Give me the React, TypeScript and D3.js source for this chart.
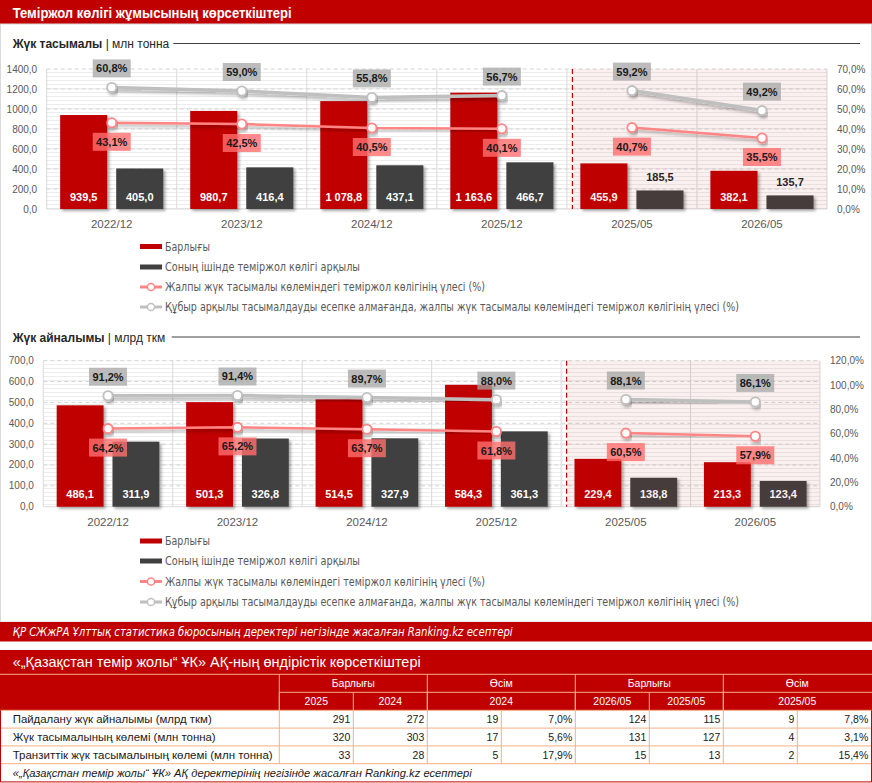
import React from "react";
import * as d3 from "d3";

// ---- data ----
const categories = ["2022/12", "2023/12", "2024/12", "2025/12", "2025/05", "2026/05"];
// annual figures vs January–May figures
const periodType = ["year", "year", "year", "year", "ytd", "ytd"];

const freightTotal = [939.5, 980.7, 1078.8, 1163.6, 455.9, 382.1];
const freightRail = [405.0, 416.4, 437.1, 466.7, 185.5, 135.7];
const freightShare = [43.1, 42.5, 40.5, 40.1, 40.7, 35.5];
const freightShareExPipe = [60.8, 59.0, 55.8, 56.7, 59.2, 49.2];

const turnoverTotal = [486.1, 501.3, 514.5, 584.3, 229.4, 213.3];
const turnoverRail = [311.9, 326.8, 327.9, 361.3, 138.8, 123.4];
const turnoverShare = [64.2, 65.2, 63.7, 61.8, 60.5, 57.9];
const turnoverShareExPipe = [91.2, 91.4, 89.7, 88.0, 88.1, 86.1];

const legendLabels = [
  "Барлығы",
  "Соның ішінде теміржол көлігі арқылы",
  "Жалпы жүк тасымалы көлеміндегі теміржол көлігінің үлесі (%)",
  "Құбыр арқылы тасымалдауды есепке алмағанда, жалпы жүк тасымалы көлеміндегі теміржол көлігінің үлесі (%)",
];
const legendWidths = [45, 195, 320, 574];

const tableRowLabels = [
  "Пайдалану жүк айналымы (млрд ткм)",
  "Жүк тасымалының көлемі (млн тонна)",
  "Транзиттік жүк тасымалының көлемі (млн тонна)",
];
const tableRowLabelWidths = [199, 203, 260];
const headerGroups = ["Барлығы", "Өсім", "Барлығы", "Өсім"];
const headerPeriods = ["2025", "2024", "2024", "2026/05", "2025/05", "2025/05"];
const year2025 = [291, 320, 33];
const year2024 = [272, 303, 28];
const growthAbsYear = [19, 17, 5];
const growthPctYear = [7.0, 5.6, 17.9];
const may2026 = [124, 131, 15];
const may2025 = [115, 127, 13];
const growthAbsMay = [9, 4, 2];
const growthPctMay = [7.8, 3.1, 15.4];

// ---- formatting ----
const locale = d3.formatLocale({ decimal: ",", thousands: "\u00a0", grouping: [3], currency: ["", ""] });
const fmtValue = locale.format(",.1f");
const fmtAxis = locale.format(".1f");
const fmtPct = (v: number) => locale.format(".1f")(v) + "%";

const RED = "#C00000";
const DARK = "#404040";
const PINK = "#FF8585";
const GRAY = "#BFBFBF";
const FONT = "'Liberation Sans', Arial, sans-serif";
const NARROW = "'Liberation Sans Narrow', 'Arial Narrow', 'DejaVu Sans Condensed', sans-serif";

type ChartProps = {
  id: string;
  titleBold: string;
  titleUnit: string;
  titleY: number;
  ruleX: number;
  x0: number;
  x1: number;
  yTop: number;
  yBottom: number;
  leftMax: number;
  leftStep: number;
  rightMax: number;
  rightStep: number;
  totals: number[];
  rail: number[];
  share: number[];
  shareEx: number[];
  xLabelY: number;
  legendY: number[];
};

function ComboChart(p: ChartProps) {
  const x = d3.scaleBand<string>().domain(categories).range([p.x0, p.x1]);
  const inner = d3
    .scaleBand<string>()
    .domain(["total", "rail"])
    .range([0, x.bandwidth()])
    .paddingInner(0.16)
    .paddingOuter(0.24);
  const yL = d3.scaleLinear().domain([0, p.leftMax]).range([p.yBottom, p.yTop]);
  const yR = d3.scaleLinear().domain([0, p.rightMax]).range([p.yBottom, p.yTop]);
  const leftTicks = d3.range(0, p.leftMax + p.leftStep / 2, p.leftStep);
  const rightTicks = d3.range(0, p.rightMax + p.rightStep / 2, p.rightStep);
  const cx = (i: number) => (x(categories[i]) as number) + x.bandwidth() / 2;
  const firstYtd = periodType.indexOf("ytd");
  const dashX = (x(categories[firstYtd]) as number) + 5.5;
  const segments = [
    categories.map((_, i) => i).filter((i) => periodType[i] === "year"),
    categories.map((_, i) => i).filter((i) => periodType[i] === "ytd"),
  ];
  const edges = categories.map((c) => x(c) as number).concat([p.x1]);

  const lineFor = (vals: number[]) =>
    d3
      .line<number>()
      .x((i) => cx(i))
      .y((i) => yR(vals[i]));

  const bars: { key: string; vals: number[]; color: string }[] = [
    { key: "total", vals: p.totals, color: RED },
    { key: "rail", vals: p.rail, color: DARK },
  ];

  const shareSeries = [
    { vals: p.shareEx, color: GRAY, width: 3.5, box: "rgba(166,166,166,0.75)", dir: -1 },
    { vals: p.share, color: PINK, width: 2.5, box: "rgba(255,110,110,0.8)", dir: 1 },
  ];

  return (
    <g>
      {/* section heading */}
      <text x={12.7} y={p.titleY + 4.5} fontFamily={FONT} fontSize={12} fill="#262626">
        <tspan fontWeight="bold">{p.titleBold}</tspan>
        <tspan>{" | "}</tspan>
        <tspan>{p.titleUnit}</tspan>
      </text>
      <line x1={p.ruleX} x2={860} y1={p.titleY} y2={p.titleY} stroke="#404040" strokeWidth={1} />

      {/* plot background */}
      <rect x={p.x0} y={p.yTop} width={p.x1 - p.x0} height={p.yBottom - p.yTop} fill="url(#hatch)" />
      {leftTicks.map((t) => (
        <line key={"g" + t} x1={p.x0} x2={p.x1} y1={yL(t)} y2={yL(t)} stroke={t === 0 ? "#D9D9D9" : "#D4D4D4"} strokeDasharray={t === 0 ? undefined : "4 3"} />
      ))}
      {edges.map((e, i) => (
        <line key={"v" + i} x1={e} x2={e} y1={p.yTop} y2={p.yBottom} stroke="#D9D9D9" />
      ))}

      {/* bars */}
      {bars.map((b) =>
        b.vals.map((v, i) => (
          <rect
            key={b.key + i}
            x={(x(categories[i]) as number) + (inner(b.key) as number)}
            y={yL(v)}
            width={inner.bandwidth()}
            height={p.yBottom - yL(v)}
            fill={b.color}
            filter="url(#barShadow)"
          />
        ))
      )}
      {bars.map((b) =>
        b.vals.map((v, i) => {
          const h = p.yBottom - yL(v);
          const outside = h < 22;
          const bx = (x(categories[i]) as number) + (inner(b.key) as number) + inner.bandwidth() / 2;
          return (
            <text
              key={"l" + b.key + i}
              x={bx}
              y={outside ? yL(v) - 13 + 4 : p.yBottom - 12.5 + 4}
              textAnchor="middle"
              fontFamily={FONT}
              fontSize={11}
              fontWeight="bold"
              fill={outside ? "#262626" : "#FFFFFF"}
            >
              {fmtValue(v)}
            </text>
          );
        })
      )}

      {/* January–May zone */}
      <rect x={dashX} y={p.yTop} width={p.x1 - dashX} height={p.yBottom - p.yTop} fill="rgba(192,0,0,0.06)" />
      <line x1={dashX} x2={dashX} y1={p.yTop} y2={p.yBottom} stroke={RED} strokeWidth={1.2} strokeDasharray="5 3" />

      {/* share lines */}
      {shareSeries.map((s, si) => (
        <g key={"s" + si}>
          {segments.map((seg, k) => (
            <path key={k} d={lineFor(s.vals)(seg) || ""} fill="none" stroke={s.color} strokeWidth={s.width} filter="url(#lineShadow)" />
          ))}
          {s.vals.map((v, i) => (
            <circle key={"c" + i} cx={cx(i)} cy={yR(v)} r={4.6} fill="#FFFFFF" stroke={s.color} strokeWidth={1.8} filter="url(#lineShadow)" />
          ))}
          {s.vals.map((v, i) => {
            const by = yR(v) + s.dir * 19;
            return (
              <g key={"b" + i}>
                <rect x={cx(i) - 19} y={by - 9} width={38} height={18} fill={s.box} />
                <text x={cx(i)} y={by + 4} textAnchor="middle" fontFamily={FONT} fontSize={11} fontWeight="bold" fill="#1A1A1A">
                  {fmtPct(v)}
                </text>
              </g>
            );
          })}
        </g>
      ))}

      {/* axes labels */}
      {leftTicks.map((t) => (
        <text key={"yl" + t} x={p.x0 - 9.5} y={yL(t) + 3.5} textAnchor="end" fontFamily={FONT} fontSize={10} fill="#595959">
          {fmtAxis(t)}
        </text>
      ))}
      {rightTicks.map((t) => (
        <text key={"yr" + t} x={p.x1 + 10} y={yR(t) + 3.5} fontFamily={FONT} fontSize={10} fill="#595959">
          {fmtPct(t)}
        </text>
      ))}
      {categories.map((c, i) => (
        <text key={"x" + c} x={cx(i)} y={p.xLabelY} textAnchor="middle" fontFamily={FONT} fontSize={11.5} fill="#595959">
          {c}
        </text>
      ))}

      {/* legend */}
      {legendLabels.map((lab, i) => {
        const ly = p.legendY[i];
        return (
          <g key={"lg" + i}>
            {i < 2 ? (
              <rect x={140} y={ly - 2.5} width={22} height={5} fill={i === 0 ? RED : DARK} />
            ) : (
              <g>
                <line x1={140} x2={162} y1={ly} y2={ly} stroke={i === 2 ? PINK : GRAY} strokeWidth={3} />
                <circle cx={151} cy={ly} r={3.6} fill="#FFFFFF" stroke={i === 2 ? PINK : GRAY} strokeWidth={1.5} />
              </g>
            )}
            <text x={165} y={ly + 4} fontFamily={NARROW} fontSize={12} fill="#595959" textLength={legendWidths[i]} lengthAdjust="spacingAndGlyphs">
              {lab}
            </text>
          </g>
        );
      })}
    </g>
  );
}

function IndicatorsTable() {
  const top = 650;
  const titleH = 24.3;
  const headH = 18;
  const rowH = 17.8;
  const firstColW = 279.3;
  const colW = 74;
  const W = 871.5;
  const colX = (k: number) => (k === 0 ? 0 : firstColW + (k - 1) * colW);
  const h1 = top + titleH;
  const h2 = h1 + headH;
  const dataTop = h2 + headH;
  const rowsVals = tableRowLabels.map((_, r) => [
    String(year2025[r]),
    String(year2024[r]),
    String(growthAbsYear[r]),
    fmtPct(growthPctYear[r]),
    String(may2026[r]),
    String(may2025[r]),
    String(growthAbsMay[r]),
    fmtPct(growthPctMay[r]),
  ]);
  const sourceTop = dataTop + rowH * tableRowLabels.length;
  const bottom = sourceTop + 18.2;
  const SALMON = "#F4B183";
  const groupSpans = [[1, 2], [3, 4], [5, 6], [7, 8]];
  const periodSpans = [[1, 1], [2, 2], [3, 4], [5, 5], [6, 6], [7, 8]];

  return (
    <g>
      <rect x={0} y={top} width={872} height={titleH + headH * 2} fill={RED} />
      <text x={12.7} y={top + 17} fontFamily={FONT} fontSize={15} fill="#FFFFFF" textLength={408} lengthAdjust="spacingAndGlyphs">
        «„Қазақстан темір жолы“ ҰК» АҚ-ның өндірістік көрсеткіштері
      </text>
      <line x1={0} x2={872} y1={h1} y2={h1} stroke={SALMON} />
      <line x1={firstColW} x2={872} y1={h2} y2={h2} stroke={SALMON} />
      <line x1={0} x2={872} y1={dataTop} y2={dataTop} stroke={SALMON} />
      {groupSpans.map((s, i) => (
        <g key={"hg" + i}>
          <line x1={colX(s[0])} x2={colX(s[0])} y1={h1} y2={dataTop} stroke={SALMON} />
          <text x={(colX(s[0]) + colX(s[1] + 1)) / 2} y={h1 + 13} textAnchor="middle" fontFamily={FONT} fontSize={10.5} fill="#FFFFFF">
            {headerGroups[i]}
          </text>
        </g>
      ))}
      {periodSpans.map((s, i) => (
        <g key={"hp" + i}>
          <line x1={colX(s[0])} x2={colX(s[0])} y1={h2} y2={dataTop} stroke={SALMON} />
          <text x={(colX(s[0]) + colX(s[1] + 1)) / 2} y={h2 + 13} textAnchor="middle" fontFamily={FONT} fontSize={10.5} fill="#FFFFFF">
            {headerPeriods[i]}
          </text>
        </g>
      ))}

      {/* data rows */}
      {tableRowLabels.map((lab, r) => {
        const ry = dataTop + r * rowH;
        return (
          <g key={"r" + r}>
            <line x1={0} x2={W} y1={ry + rowH} y2={ry + rowH} stroke={SALMON} />
            <text x={12.7} y={ry + 13} fontFamily={FONT} fontSize={11} fill="#1A1A1A" textLength={tableRowLabelWidths[r]} lengthAdjust="spacingAndGlyphs">
              {lab}
            </text>
            {rowsVals[r].map((v, k) => (
              <text key={k} x={colX(k + 2) - 3} y={ry + 13} textAnchor="end" fontFamily={FONT} fontSize={10.5} fill="#1A1A1A">
                {v}
              </text>
            ))}
          </g>
        );
      })}
      {d3.range(1, 9).map((k) => (
        <line key={"cv" + k} x1={colX(k)} x2={colX(k)} y1={dataTop} y2={sourceTop} stroke={SALMON} />
      ))}
      <line x1={0.5} x2={0.5} y1={dataTop} y2={bottom} stroke={RED} />
      <line x1={W} x2={W} y1={dataTop} y2={bottom} stroke={RED} />
      <line x1={0} x2={872} y1={bottom} y2={bottom} stroke={RED} />
      <text x={12.7} y={sourceTop + 13} fontFamily={FONT} fontSize={11} fontStyle="italic" fill="#1A1A1A" textLength={459} lengthAdjust="spacingAndGlyphs">
        «„Қазақстан темір жолы“ ҰК» АҚ деректерінің негізінде жасалған Ranking.kz есептері
      </text>
    </g>
  );
}

export default function App() {
  return (
    <div style={{ position: "absolute", left: 0, top: 0 }}>
      <svg width={872} height={783} style={{ display: "block", background: "#FFFFFF" }}>
        <defs>
          <pattern id="hatch" width={4} height={4} patternUnits="userSpaceOnUse">
            <rect width={4} height={4} fill="#FFFFFF" />
            <line x1={0} x2={4} y1={0.5} y2={0.5} stroke="#EDEDED" strokeWidth={1} />
          </pattern>
          <filter id="barShadow" x="-20%" y="-20%" width="150%" height="150%">
            <feDropShadow dx={2} dy={2} stdDeviation={1.5} floodColor="#000000" floodOpacity={0.35} />
          </filter>
          <filter id="lineShadow" x="-10%" y="-50%" width="120%" height="200%">
            <feDropShadow dx={1.5} dy={2.5} stdDeviation={1.5} floodColor="#000000" floodOpacity={0.3} />
          </filter>
        </defs>

        {/* page heading */}
        <rect x={0} y={0} width={872} height={24} fill={RED} />
        <text x={12.7} y={17.5} fontFamily={FONT} fontSize={14} fontWeight="bold" fill="#FFFFFF" textLength={279} lengthAdjust="spacingAndGlyphs">
          Теміржол көлігі жұмысының көрсеткіштері
        </text>
        <rect x={0.5} y={24} width={871} height={598} fill="none" stroke="#D9D9D9" />

        <ComboChart
          id="freight"
          titleBold="Жүк тасымалы"
          titleUnit="млн тонна"
          titleY={43.5}
          ruleX={173.3}
          x0={46.7}
          x1={827}
          yTop={69}
          yBottom={209}
          leftMax={1400}
          leftStep={200}
          rightMax={70}
          rightStep={10}
          totals={freightTotal}
          rail={freightRail}
          share={freightShare}
          shareEx={freightShareExPipe}
          xLabelY={227.5}
          legendY={[246.5, 267, 287, 307]}
        />
        <ComboChart
          id="turnover"
          titleBold="Жүк айналымы"
          titleUnit="млрд ткм"
          titleY={337}
          ruleX={171.7}
          x0={43.3}
          x1={820}
          yTop={360.7}
          yBottom={506.7}
          leftMax={700}
          leftStep={100}
          rightMax={120}
          rightStep={20}
          totals={turnoverTotal}
          rail={turnoverRail}
          share={turnoverShare}
          shareEx={turnoverShareExPipe}
          xLabelY={526}
          legendY={[541, 561, 581.5, 602]}
        />

        {/* source band */}
        <rect x={0} y={622} width={872} height={19.5} fill={RED} />
        <text x={12.7} y={635.5} fontFamily={NARROW} fontSize={12} fontStyle="italic" fill="#FFFFFF" textLength={500} lengthAdjust="spacingAndGlyphs">
          ҚР СЖжРА Ұлттық статистика бюросының деректері негізінде жасалған Ranking.kz есептері
        </text>

        <IndicatorsTable />
      </svg>
    </div>
  );
}
